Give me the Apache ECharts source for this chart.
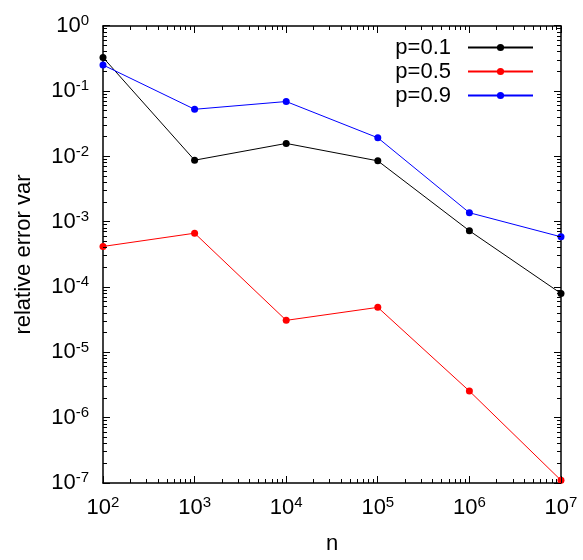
<!DOCTYPE html>
<html><head><meta charset="utf-8">
<script src="https://cdn.jsdelivr.net/npm/echarts@6/dist/echarts.min.js"></script>
<style>html,body{margin:0;padding:0;background:#fff}#c{width:583px;height:560px}</style>
</head><body><div id="c"></div>
<script>
const nValues = [1e2, 1e3, 1e4, 1e5, 1e6, 1e7];
const seriesNames = ['p=0.1', 'p=0.5', 'p=0.9'];
const p01 = [0.33, 0.0088, 0.0159, 0.0086, 7.3e-4, 8.0e-5];
const p05 = [4.2e-4, 6.7e-4, 3.1e-5, 4.9e-5, 2.56e-6, 1.1e-7];
const p09 = [0.253, 0.053, 0.0697, 0.0194, 1.38e-3, 5.9e-4];
const colors = ['#000000', '#ff0000', '#0000ff'];
const xMajorExps = [2, 3, 4, 5, 6, 7];
const yMajorExps = [-7, -6, -5, -4, -3, -2, -1, 0];

const FONT = 'Liberation Sans, Arial, Helvetica, sans-serif';
const xMin = xMajorExps[0], xMax = xMajorExps[xMajorExps.length - 1];
const yMin = yMajorExps[0], yMax = yMajorExps[yMajorExps.length - 1];
// axes are linear in log10 space; data is mapped with log10
function minors(exps) {
  const out = [];
  for (let i = 0; i < exps.length - 1; i++) {
    for (let k = 2; k <= 9; k++) out.push(exps[i] + Math.log10(k));
  }
  return out;
}
const rich = {
  b: { fontSize: 22, fontFamily: FONT, color: '#000' },
  s: { fontSize: 15, fontFamily: FONT, color: '#000', padding: [0, 0, 10, 0] }
};
function fmt(v) { return '{b|10}{s|' + Math.round(v) + '}'; }

function xAx(pos, showLabel) {
  return {
    type: 'value', position: pos, min: xMin, max: xMax, interval: 1,
    name: pos === 'bottom' ? 'n' : '',
    nameLocation: 'middle', nameGap: 50,
    nameTextStyle: { fontSize: 22, fontFamily: FONT, color: '#000' },
    axisLine: { show: true, onZero: false, lineStyle: { color: '#000', width: 1.5 } },
    axisTick: { show: false },
    axisLabel: { show: showLabel, formatter: fmt, rich: rich, margin: 12 },
    splitLine: { show: false }, minorTick: { show: false }
  };
}
function yAx(pos, showLabel) {
  return {
    type: 'value', position: pos, min: yMin, max: yMax, interval: 1,
    name: pos === 'left' ? 'relative error var' : '',
    nameLocation: 'middle', nameGap: 68, nameRotate: 90,
    nameTextStyle: { fontSize: 22, fontFamily: FONT, color: '#000' },
    axisLine: { show: true, onZero: false, lineStyle: { color: '#000', width: 1.5 } },
    axisTick: { show: false },
    axisLabel: { show: showLabel, formatter: fmt, rich: rich, margin: 14 },
    splitLine: { show: false }, minorTick: { show: false }
  };
}

// tick table: [x, y, kind] kind 0 = x minor, 1 = y minor, 2 = x major, 3 = y major
const tickData = minors(xMajorExps).map(v => [v, yMin, 0])
  .concat(minors(yMajorExps).map(v => [xMin, v, 1]))
  .concat(xMajorExps.map(v => [v, yMin, 2]))
  .concat(yMajorExps.map(v => [xMin, v, 3]));
const MINOR_LEN = 4, MAJOR_LEN = 7;
function crisp(v) { return Math.round(v - 0.5) + 0.5; }
function renderTick(params, api) {
  const kind = api.value(2);
  const len = kind >= 2 ? MAJOR_LEN : MINOR_LEN;
  const style = { stroke: '#000', lineWidth: 1 };
  if (kind === 0 || kind === 2) {
    const v = api.value(0);
    const a = api.coord([v, yMin]), b = api.coord([v, yMax]);
    const x = crisp(a[0]);
    return { type: 'group', children: [
      { type: 'line', shape: { x1: x, y1: a[1], x2: x, y2: a[1] - len }, style: style },
      { type: 'line', shape: { x1: x, y1: b[1], x2: x, y2: b[1] + len }, style: style }
    ] };
  }
  const v = api.value(1);
  const a = api.coord([xMin, v]), b = api.coord([xMax, v]);
  const y = crisp(a[1]);
  return { type: 'group', children: [
    { type: 'line', shape: { x1: a[0], y1: y, x2: a[0] + len, y2: y }, style: style },
    { type: 'line', shape: { x1: b[0], y1: y, x2: b[0] - len, y2: y }, style: style }
  ] };
}

const dataSets = [p01, p05, p09];
const option = {
  animation: false,
  backgroundColor: '#fff',
  grid: { left: 103, right: 22, top: 26, bottom: 76 },
  xAxis: [xAx('bottom', true), xAx('top', false)],
  yAxis: [yAx('left', true), yAx('right', false)],
  legend: {
    orient: 'vertical', right: 44, top: 31, align: 'right',
    itemWidth: 65, itemHeight: 9, itemGap: 1,
    textStyle: { fontSize: 22, lineHeight: 23, fontFamily: FONT, color: '#000', padding: [0, 12, 0, 0] },
    data: seriesNames
  },
  series: [{
    type: 'custom', name: 'ticks', silent: true, xAxisIndex: 0, yAxisIndex: 0,
    encode: { x: 0, y: 1 }, data: tickData, renderItem: renderTick, z: 5
  }].concat(seriesNames.map((name, i) => ({
    name: name, type: 'line', xAxisIndex: 0, yAxisIndex: 0,
    data: nValues.map((n, j) => [Math.log10(n), Math.log10(dataSets[i][j])]),
    symbol: 'circle', symbolSize: 7, showSymbol: true,
    lineStyle: { color: colors[i], width: 1 },
    itemStyle: { color: colors[i] },
    clip: false, z: 3
  })))
};
const chart = echarts.init(document.getElementById('c'), null, { renderer: 'canvas' });
chart.setOption(option);
</script>
</body></html>
